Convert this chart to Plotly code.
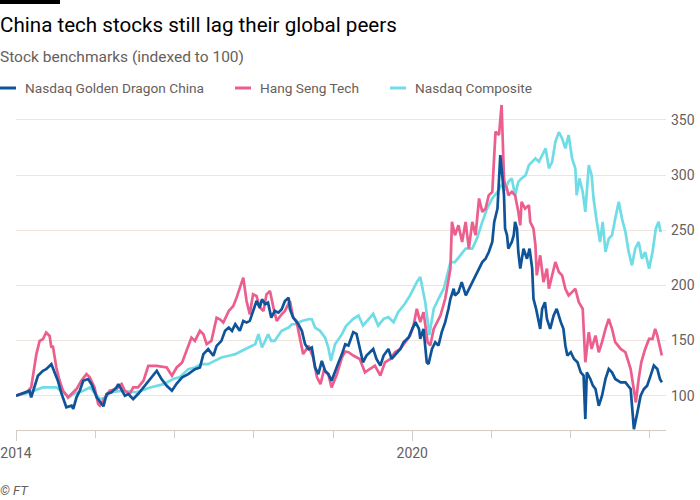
import plotly.graph_objects as go

# ---------------- data ----------------
dragon_dates = [
    "2014-12-31", "2015-02-18", "2015-03-03", "2015-03-11", "2015-04-11", "2015-05-04", "2015-05-19",
    "2015-06-12", "2015-07-05", "2015-07-12", "2015-07-27", "2015-08-20", "2015-09-13", "2015-09-21",
    "2015-10-06", "2015-10-21", "2015-11-06", "2015-11-28", "2015-12-14", "2016-01-07", "2016-02-07",
    "2016-02-22", "2016-03-15", "2016-04-07", "2016-04-16", "2016-05-01", "2016-05-16", "2016-06-01",
    "2016-06-23", "2016-07-16", "2016-08-10", "2016-09-01", "2016-09-25", "2016-10-10", "2016-11-01",
    "2016-11-25", "2016-12-19", "2017-01-10", "2017-02-04", "2017-03-04", "2017-04-04", "2017-04-27",
    "2017-05-13", "2017-06-04", "2017-06-28", "2017-07-13", "2017-08-04", "2017-08-21", "2017-09-07",
    "2017-09-22", "2017-10-07", "2017-10-28", "2017-11-13", "2017-11-28", "2017-12-13", "2017-12-28",
    "2018-01-13", "2018-01-28", "2018-02-07", "2018-02-22", "2018-03-07", "2018-03-22", "2018-04-07",
    "2018-04-24", "2018-05-09", "2018-05-24", "2018-06-10", "2018-06-16", "2018-07-01", "2018-07-25",
    "2018-08-10", "2018-08-25", "2018-09-10", "2018-09-25", "2018-10-10", "2018-10-25", "2018-11-10",
    "2018-11-25", "2018-12-10", "2018-12-25", "2019-01-10", "2019-01-26", "2019-02-11", "2019-02-26",
    "2019-03-13", "2019-04-04", "2019-04-19", "2019-05-04", "2019-05-19", "2019-06-04", "2019-06-19",
    "2019-07-05", "2019-07-20", "2019-08-07", "2019-08-22", "2019-09-13", "2019-09-28", "2019-10-13",
    "2019-11-07", "2019-11-22", "2019-12-16", "2020-01-01", "2020-01-16", "2020-02-01", "2020-02-07",
    "2020-02-22", "2020-03-08", "2020-03-16", "2020-04-01", "2020-04-16", "2020-05-01", "2020-05-16",
    "2020-06-01", "2020-06-16", "2020-06-25", "2020-07-10", "2020-07-16", "2020-08-01", "2020-08-16",
    "2020-09-04", "2020-09-19", "2020-10-04", "2020-10-19", "2020-11-04", "2020-11-19", "2020-12-04",
    "2020-12-19", "2021-01-04", "2021-01-13", "2021-01-28", "2021-02-10", "2021-02-19", "2021-02-27",
    "2021-03-04", "2021-03-13", "2021-03-19", "2021-04-04", "2021-04-13", "2021-04-19", "2021-04-28",
    "2021-05-04", "2021-05-13", "2021-05-28", "2021-06-13", "2021-06-25", "2021-07-07", "2021-07-13",
    "2021-07-25", "2021-08-07", "2021-08-13", "2021-08-22", "2021-09-04", "2021-09-13", "2021-09-22",
    "2021-09-28", "2021-10-14", "2021-10-28", "2021-11-16", "2021-11-28", "2021-12-07", "2021-12-16",
    "2022-01-01", "2022-01-16", "2022-02-01", "2022-02-16", "2022-03-01", "2022-03-09", "2022-03-16",
    "2022-04-01", "2022-04-13", "2022-04-25", "2022-05-10", "2022-05-25", "2022-06-10", "2022-06-25",
    "2022-07-10", "2022-07-25", "2022-08-19", "2022-09-10", "2022-10-04", "2022-10-19", "2022-11-04",
    "2022-11-19", "2022-12-04", "2022-12-19", "2023-01-04", "2023-01-19", "2023-02-04", "2023-02-16",
    "2023-02-25",
]
dragon_values = [
    100, 103, 104.5, 98.5, 118.1, 122.6, 124.1,
    128.6, 116.6, 113.6, 103, 89.5, 91, 88,
    98.5, 104.5, 113.6, 115.1, 110.5, 98.5, 90.4,
    101.5, 103, 107.5, 110.5, 104.5, 100, 101.5,
    97, 101.5, 107.5, 113.6, 119.6, 122.6, 115.1,
    109, 104.5, 111, 116.6, 119.6, 124.1, 125.6,
    137.7, 142.2, 136.2, 145.2, 149.7, 158.8, 161.8,
    158.8, 164.8, 158.8, 167.8, 166.3, 167.8, 176.9,
    185.9, 179.9, 187.4, 182.9, 184.4, 170.8, 176.9,
    175.3, 178.4, 185.9, 188.9, 178.4, 170.8, 164.8,
    158.8, 146.7, 142.2, 143.7, 125.6, 119.6, 131.6,
    122.6, 119.6, 113.6, 122.6, 130.1, 137.7, 146.7,
    145.5, 157.6, 156.1, 142.4, 130.3, 136.4, 139.4,
    142.4, 133.3, 127.3, 136.4, 142.4, 133.3, 136.4,
    142.4, 148.5, 153, 160.6, 166.7, 160.6, 151.5,
    160.6, 130.3, 128.8, 142.4, 148.5, 145.5, 157.6,
    166.7, 178.8, 187.9, 197, 190.9, 193.9, 203,
    190.9, 197, 203, 209.1, 215.2, 221.2, 224.2,
    230.3, 239.4, 257.6, 269.7, 318.2, 300, 281.8,
    251.5, 245.5, 233.3, 239.4, 245.5, 257.6, 251.5,
    230.3, 215.2, 233.3, 224.2, 233.3, 215.2, 187.9,
    178.8, 166.7, 160.6, 178.8, 184.8, 169.7, 163.6,
    160.6, 172.7, 178.8, 166.7, 160.6, 145.5, 136.4,
    139.4, 133.3, 130.3, 121.2, 118.2, 78.8, 121.2,
    115.2, 109.1, 106.1, 90.9, 100, 115.2, 124.2,
    121.2, 115.2, 112.1, 112.1, 106.1, 69.7, 84.8,
    100, 106.1, 109.1, 118.2, 127.3, 124.2, 115.2,
    112.1,
]

hstech_dates = [
    "2014-12-31", "2015-02-18", "2015-03-11", "2015-03-26", "2015-04-04", "2015-04-19", "2015-05-04",
    "2015-05-19", "2015-06-04", "2015-06-12", "2015-06-19", "2015-07-05", "2015-07-20", "2015-08-05",
    "2015-08-28", "2015-09-13", "2015-10-06", "2015-10-28", "2015-11-21", "2015-12-06", "2015-12-28",
    "2016-01-14", "2016-01-22", "2016-02-15", "2016-03-07", "2016-04-07", "2016-05-01", "2016-05-16",
    "2016-06-07", "2016-06-23", "2016-07-16", "2016-08-10", "2016-09-01", "2016-10-10", "2016-11-25",
    "2016-12-19", "2017-01-10", "2017-02-04", "2017-02-19", "2017-03-19", "2017-04-04", "2017-04-27",
    "2017-05-13", "2017-05-28", "2017-06-19", "2017-07-13", "2017-07-28", "2017-08-13", "2017-09-07",
    "2017-09-28", "2017-10-13", "2017-10-28", "2017-11-13", "2017-11-28", "2017-12-13", "2017-12-28",
    "2018-01-13", "2018-01-28", "2018-02-14", "2018-02-28", "2018-03-16", "2018-04-01", "2018-04-16",
    "2018-05-09", "2018-05-24", "2018-06-16", "2018-07-01", "2018-07-16", "2018-08-01", "2018-08-16",
    "2018-09-10", "2018-10-01", "2018-10-19", "2018-11-04", "2018-11-19", "2018-12-10", "2018-12-25",
    "2019-01-19", "2019-02-11", "2019-02-26", "2019-03-13", "2019-04-04", "2019-05-04", "2019-05-28",
    "2019-06-19", "2019-07-13", "2019-08-07", "2019-08-28", "2019-09-22", "2019-10-13", "2019-11-07",
    "2019-11-28", "2019-12-22", "2020-01-07", "2020-01-22", "2020-02-07", "2020-02-22", "2020-03-12",
    "2020-03-24", "2020-04-09", "2020-04-25", "2020-05-10", "2020-06-01", "2020-06-16", "2020-06-25",
    "2020-07-02", "2020-07-16", "2020-08-01", "2020-08-18", "2020-09-03", "2020-09-18", "2020-10-04",
    "2020-10-19", "2020-11-04", "2020-11-19", "2020-12-04", "2020-12-19", "2021-01-04", "2021-01-19",
    "2021-02-04", "2021-02-16", "2021-02-27", "2021-03-04", "2021-03-13", "2021-03-19", "2021-04-04",
    "2021-04-19", "2021-05-04", "2021-05-13", "2021-05-19", "2021-06-04", "2021-06-22", "2021-06-28",
    "2021-07-13", "2021-07-22", "2021-07-28", "2021-08-07", "2021-08-13", "2021-08-28", "2021-09-13",
    "2021-09-22", "2021-10-07", "2021-10-22", "2021-11-07", "2021-11-22", "2021-12-07", "2021-12-22",
    "2022-01-07", "2022-01-22", "2022-02-07", "2022-02-25", "2022-03-09", "2022-03-16", "2022-03-25",
    "2022-04-07", "2022-04-25", "2022-05-10", "2022-05-25", "2022-06-10", "2022-06-25", "2022-07-10",
    "2022-07-25", "2022-08-19", "2022-09-10", "2022-10-04", "2022-10-19", "2022-10-28", "2022-11-10",
    "2022-11-22", "2022-12-10", "2022-12-28", "2023-01-13", "2023-01-25", "2023-02-04", "2023-02-16",
    "2023-02-25",
]
hstech_values = [
    100, 103, 107.5, 124.1, 137.7, 149.7, 151.2,
    157.3, 154.2, 143.7, 145.2, 125.6, 113.6, 104.5,
    98.5, 101.5, 106, 113.6, 119.6, 116.6, 107.5,
    92.5, 91, 98.5, 104.5, 106, 110.5, 104.5,
    101.5, 107.5, 107.5, 113.6, 127.1, 127.1, 125.6,
    118.1, 125.6, 130.1, 137.7, 152.7, 149.7, 158.8,
    155.8, 146.7, 149.7, 170.8, 169.3, 166.3, 176.9,
    181.4, 188.9, 198, 207, 185.9, 173.8, 191.9,
    190.4, 179.9, 176.9, 191.9, 194.9, 179.9, 167.8,
    173.8, 176.9, 185.9, 170.8, 167.8, 152.7, 137.7,
    145.2, 134.7, 116.6, 110.5, 122.6, 119.6, 107.5,
    119.6, 134.7, 140, 139.4, 136.4, 133.3, 121.2,
    124.2, 127.3, 118.2, 130.3, 133.3, 139.4, 142.4,
    148.5, 154.5, 163.6, 178.8, 166.7, 175.8, 148.5,
    145.5, 160.6, 166.7, 172.7, 187.9, 203, 215.2,
    257.6, 245.5, 254.5, 239.4, 257.6, 233.3, 257.6,
    245.5, 278.8, 266.7, 269.7, 281.8, 284.8, 339.4,
    336.4, 363.6, 297, 290.9, 287.9, 281.8, 284.8,
    281.8, 266.7, 254.5, 275.8, 269.7, 272.7, 257.6,
    251.5, 236.4, 209.1, 221.2, 227.3, 203, 215.2,
    197, 209.1, 221.2, 212.1, 209.1, 197, 190.9,
    193.9, 197, 184.8, 178.8, 130.3, 145.5, 157.6,
    142.4, 154.5, 139.4, 148.5, 160.6, 169.7, 160.6,
    148.5, 142.4, 139.4, 124.2, 106.1, 93.9, 115.2,
    130.3, 142.4, 151.5, 151.5, 160.6, 154.5, 145.5,
    136.4,
]

nasdaq_dates = [
    "2014-12-31", "2015-03-03", "2015-05-04", "2015-07-05", "2015-08-20", "2015-08-28", "2015-09-21",
    "2015-11-06", "2015-12-07", "2016-01-22", "2016-02-16", "2016-03-07", "2016-05-07", "2016-07-08",
    "2016-09-10", "2016-11-10", "2016-12-25", "2017-01-25", "2017-03-04", "2017-04-04", "2017-05-04",
    "2017-06-04", "2017-07-04", "2017-08-04", "2017-09-07", "2017-10-07", "2017-11-07", "2017-12-07",
    "2018-01-07", "2018-01-22", "2018-02-07", "2018-02-22", "2018-03-07", "2018-03-22", "2018-04-07",
    "2018-05-09", "2018-06-10", "2018-06-25", "2018-07-10", "2018-08-10", "2018-09-10", "2018-09-25",
    "2018-10-10", "2018-11-02", "2018-11-25", "2018-12-10", "2018-12-22", "2019-01-10", "2019-02-11",
    "2019-02-26", "2019-03-04", "2019-04-04", "2019-04-28", "2019-05-19", "2019-06-13", "2019-07-05",
    "2019-07-28", "2019-08-22", "2019-09-13", "2019-10-07", "2019-10-28", "2019-11-28", "2019-12-22",
    "2020-01-22", "2020-02-07", "2020-02-19", "2020-03-01", "2020-03-20", "2020-04-09", "2020-05-01",
    "2020-05-25", "2020-06-10", "2020-06-25", "2020-07-16", "2020-08-10", "2020-09-03", "2020-10-04",
    "2020-10-25", "2020-11-19", "2020-12-11", "2021-01-04", "2021-01-28", "2021-02-19", "2021-03-04",
    "2021-03-19", "2021-04-04", "2021-04-19", "2021-05-04", "2021-05-19", "2021-06-07", "2021-06-22",
    "2021-07-07", "2021-07-22", "2021-08-07", "2021-08-22", "2021-09-07", "2021-09-22", "2021-10-07",
    "2021-10-22", "2021-11-07", "2021-11-22", "2021-12-07", "2021-12-22", "2022-01-07", "2022-01-22",
    "2022-01-28", "2022-02-10", "2022-02-25", "2022-03-09", "2022-03-25", "2022-04-07", "2022-04-16",
    "2022-05-01", "2022-05-16", "2022-05-28", "2022-06-10", "2022-06-25", "2022-07-10", "2022-07-25",
    "2022-08-10", "2022-08-25", "2022-09-10", "2022-09-25", "2022-10-10", "2022-10-25", "2022-11-10",
    "2022-11-25", "2022-12-10", "2022-12-28", "2023-01-13", "2023-01-28", "2023-02-10", "2023-02-19",
]
nasdaq_values = [
    100, 103, 107.5, 107.5, 101, 98, 101.5,
    104.5, 107.5, 97, 98, 103, 104.5, 103,
    107.5, 110.5, 115.1, 117, 124.1, 125.6, 128.6,
    128.6, 131.6, 134.7, 136.2, 137.7, 140.7, 143.7,
    146.7, 155.8, 143.7, 149.7, 155.8, 149.7, 149.7,
    158.8, 161.8, 164.8, 164.8, 167.8, 169.3, 169.3,
    161.8, 158.8, 152.7, 143.7, 131.6, 146.7, 155.8,
    161.8, 163.6, 169.7, 172.7, 163.6, 169.7, 174.2,
    163.6, 169.7, 171.2, 166.7, 175.8, 183.3, 190.9,
    203, 207.6, 193.9, 184.8, 155, 178.8, 187.9,
    197, 209.1, 221.2, 221.2, 227.3, 233.3, 233.3,
    242.4, 257.6, 269.7, 278.8, 284.8, 292, 286,
    293.9, 297, 281.8, 293.9, 297, 300, 309.1,
    312.1, 315.2, 312.1, 318.2, 324.2, 306.1, 312.1,
    330.3, 339, 333.3, 324.2, 336.4, 315.2, 306.1,
    281.8, 297, 284.8, 266.7, 309.1, 300, 278.8,
    257.6, 239.4, 257.6, 230.3, 242.4, 245.5, 260.6,
    275.8, 260.6, 248.5, 230.3, 218.2, 233.3, 239.4,
    224.2, 230.3, 215.2, 230.3, 251.5, 257.6, 248.5,
]

series_names = ["Nasdaq Golden Dragon China", "Hang Seng Tech", "Nasdaq Composite"]
series_colors = ["#0f5499", "#eb5e8d", "#70dce6"]

x_major_ticks = ["2014-12-31", "2020-01-01"]
x_major_labels = ["2014", "2020"]
x_minor_ticks = ["2016-01-01", "2017-01-01", "2018-01-01", "2019-01-01",
                 "2021-01-01", "2022-01-01", "2023-01-01"]
y_ticks = [100, 150, 200, 250, 300, 350]

TITLE = "China tech stocks still lag their global peers"
SUBTITLE = "Stock benchmarks (indexed to 100)"
SOURCE = "© FT"

# ---------------- layout helpers (pixel -> paper) ----------------
W, H = 700, 500
ML, MR, MT, MB = 16, 34, 102, 70
PW, PH = W - ML - MR, H - MT - MB


def px(x):
    return (x - ML) / PW


def py(y):
    return (H - MB - y) / PH


TEXT = "#66605c"
FONT = "Roboto"

fig = go.Figure()
# draw order: composite underneath, golden dragon on top
for dates, vals, i in [(nasdaq_dates, nasdaq_values, 2),
                       (hstech_dates, hstech_values, 1),
                       (dragon_dates, dragon_values, 0)]:
    fig.add_trace(go.Scatter(x=dates, y=vals, mode="lines", name=series_names[i],
                             line=dict(color=series_colors[i], width=2.7),
                             hoverinfo="x+y+name"))

fig.update_layout(
    width=W, height=H,
    margin=dict(l=ML, r=MR, t=MT, b=MB, autoexpand=False),
    paper_bgcolor="white", plot_bgcolor="white",
    showlegend=False,
    font=dict(family=FONT, color=TEXT, size=14),
    xaxis=dict(
        type="date", range=["2014-12-31", "2023-03-16"], automargin=False,
        tickmode="array", tickvals=x_major_ticks, ticktext=x_major_labels,
        ticks="outside", ticklen=10, tickwidth=1, tickcolor="#d4ccc4",
        showline=True, linecolor="#d4ccc4", linewidth=1,
        showgrid=False, zeroline=False,
        tickfont=dict(size=14, color=TEXT, family=FONT),
        minor=dict(tickvals=x_minor_ticks, ticks="outside", ticklen=7,
                   tickcolor="#d4ccc4", tickwidth=1, showgrid=False),
    ),
    yaxis=dict(
        side="right", range=[68.9, 366.3], automargin=False,
        tickmode="array", tickvals=y_ticks,
        ticks="", showline=False, zeroline=False,
        showgrid=True, gridcolor="#ece4dd", gridwidth=1,
        tickfont=dict(size=14, color=TEXT, family=FONT),
        ticklabelstandoff=4,
    ),
)

# top-left black bar
fig.add_shape(type="rect", xref="paper", yref="paper",
              x0=px(0), x1=px(60), y0=py(4), y1=py(0),
              fillcolor="#000000", line=dict(width=0), layer="above")

annos = [
    dict(text=TITLE, x=px(-2), y=py(25), font=dict(size=20.6, color="#000000", family=FONT)),
    dict(text=SUBTITLE, x=px(-2), y=py(57), font=dict(size=15.5, color=TEXT, family=FONT)),
    dict(text=f"<i>{SOURCE}</i>", x=px(-2), y=py(490), font=dict(size=13, color=TEXT, family=FONT)),
]
legend_x = [0, 235, 390]
for i, name in enumerate(series_names):
    fig.add_shape(type="line", xref="paper", yref="paper",
                  x0=px(legend_x[i]), x1=px(legend_x[i] + 16), y0=py(88), y1=py(88),
                  line=dict(color=series_colors[i], width=3))
    annos.append(dict(text=name, x=px(legend_x[i] + 23), y=py(88),
                      font=dict(size=13.7, color=TEXT, family=FONT)))

for a in annos:
    fig.add_annotation(xref="paper", yref="paper", xanchor="left", yanchor="middle",
                       showarrow=False, **a)

fig.write_html("out.html", config={"displayModeBar": False},
               post_script="document.body.style.margin='0';document.body.style.overflow='hidden';")
